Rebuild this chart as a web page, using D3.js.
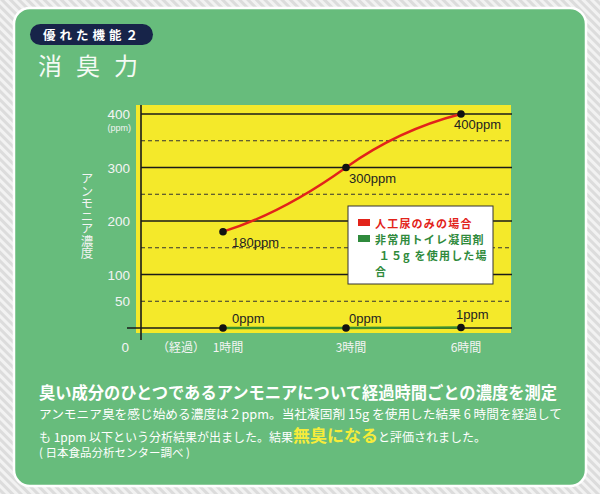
<!DOCTYPE html>
<html>
<head>
<meta charset="utf-8">
<script src="https://cdn.jsdelivr.net/npm/d3@7"></script>
<style>
  body { margin: 0; padding: 0; background: #fff; }
  svg { display: block; font-family: "Noto Sans CJK JP", "Noto Sans", sans-serif; }
</style>
</head>
<body>
<div id="chart"></div>
<script>
// chart data
var hours = [1, 3, 6];
var hourLabels = ["1時間", "3時間", "6時間"];
var urineOnly = [180, 300, 400];
var withAgent = [0, 0, 1];
var urineLabels = ["180ppm", "300ppm", "400ppm"];
var agentLabels = ["0ppm", "0ppm", "1ppm"];
var solidTicks = [0, 100, 200, 300, 400];
var dashedTicks = [50, 150, 250, 350];
var tickLabels = [400, 300, 200, 100, 50];
var legendLines = [
    { text: "人工尿のみの場合", color: "#e2231a" },
    { text: "非常用トイレ凝固剤", color: "#2f8a3c" },
    { text: " １５g を使用した場", color: "#2f8a3c" },
    { text: "合", color: "#2f8a3c" }
];

var W = 600, H = 494;

var svg = d3.select("#chart").append("svg")
    .attr("width", W)
    .attr("height", H);

// striped background
var defs = svg.append("defs");
var pat = defs.append("pattern")
    .attr("id", "stripes")
    .attr("patternUnits", "userSpaceOnUse")
    .attr("width", 6).attr("height", 6)
    .attr("patternTransform", "rotate(-45)");
pat.append("rect").attr("width", 6).attr("height", 6).attr("fill", "#f2f2f2");
pat.append("rect").attr("width", 3).attr("height", 6).attr("fill", "#dcdcdc");

svg.append("rect").attr("width", W).attr("height", H).attr("fill", "url(#stripes)");

// green panel
svg.append("rect")
    .attr("x", 14).attr("y", 8)
    .attr("width", 572).attr("height", 478)
    .attr("rx", 16)
    .attr("fill", "#67bc7c")
    .attr("stroke", "#ffffff")
    .attr("stroke-width", 2.5);

// badge
svg.append("rect")
    .attr("x", 30).attr("y", 24)
    .attr("width", 123).attr("height", 21)
    .attr("rx", 10.5)
    .attr("fill", "#172449");
svg.append("text")
    .attr("x", 43).attr("y", 40)
    .attr("fill", "#fff")
    .style("font-size", "12.5px")
    .style("font-weight", "bold")
    .style("letter-spacing", "4px")
    .text("優れた機能２");

svg.append("text")
    .attr("x", 38).attr("y", 75)
    .attr("fill", "#f4faf4")
    .style("font-size", "24px")
    .style("letter-spacing", "14px")
    .text("消臭力");

// scales
var x = d3.scaleLinear().domain(hours).range([223, 346, 461]);
var y = d3.scaleLinear().domain([0, 400]).range([328, 114]);

// plot area
var plotLeft = 136, plotRight = 511, plotTop = 105, plotBottom = 333;
var axisX = 141;

svg.append("rect")
    .attr("x", plotLeft).attr("y", plotTop)
    .attr("width", plotRight - plotLeft).attr("height", plotBottom - plotTop)
    .attr("fill", "#f4e92a");

svg.selectAll(".grid-solid")
    .data(solidTicks)
    .enter().append("line")
    .attr("class", "grid-solid")
    .attr("x1", function (d) { return d === 0 ? 127 : axisX; })
    .attr("x2", plotRight + 1)
    .attr("y1", function (d) { return y(d); })
    .attr("y2", function (d) { return y(d); })
    .attr("stroke", "#1a1a1a")
    .attr("stroke-width", 1.6);

svg.selectAll(".grid-dash")
    .data(dashedTicks)
    .enter().append("line")
    .attr("class", "grid-dash")
    .attr("x1", axisX).attr("x2", plotRight + 1)
    .attr("y1", function (d) { return y(d); })
    .attr("y2", function (d) { return y(d); })
    .attr("stroke", "#333")
    .attr("stroke-width", 1.2)
    .attr("stroke-dasharray", "4,3");

svg.append("line")
    .attr("x1", axisX).attr("x2", axisX)
    .attr("y1", plotTop).attr("y2", 340)
    .attr("stroke", "#1a1a1a")
    .attr("stroke-width", 1.6);

// y tick labels
svg.selectAll(".ytick")
    .data(tickLabels)
    .enter().append("text")
    .attr("class", "ytick")
    .attr("x", 130)
    .attr("y", function (d) { return y(d) + 5; })
    .attr("text-anchor", "end")
    .attr("fill", "#f4f4f4")
    .style("font-size", "13.5px")
    .style("font-family", "'Liberation Sans', sans-serif")
    .text(function (d) { return d; });

svg.append("text")
    .attr("x", 131).attr("y", y(400) + 17)
    .attr("text-anchor", "end")
    .attr("fill", "#f4f4f4")
    .style("font-size", "9px")
    .style("font-family", "'Liberation Sans', sans-serif")
    .text("(ppm)");

svg.append("text")
    .attr("x", 129).attr("y", 352)
    .attr("text-anchor", "end")
    .attr("fill", "#f4f4f4")
    .style("font-size", "13.5px")
    .style("font-family", "'Liberation Sans', sans-serif")
    .text("0");

// y axis title, vertical
svg.append("text")
    .attr("x", 87).attr("y", 172)
    .attr("fill", "#f4f4f4")
    .style("font-size", "12.5px")
    .style("writing-mode", "vertical-rl")
    .style("text-orientation", "upright")
    .text("アンモニア濃度");

// x labels
svg.append("text")
    .attr("x", 181).attr("y", 352)
    .attr("text-anchor", "middle")
    .attr("fill", "#f4f4f4")
    .style("font-size", "12px")
    .text("（経過）");

svg.selectAll(".xlab")
    .data(hours)
    .enter().append("text")
    .attr("class", "xlab")
    .attr("x", function (d) { return x(d) + 5; })
    .attr("y", 352)
    .attr("text-anchor", "middle")
    .attr("fill", "#f4f4f4")
    .style("font-size", "12px")
    .text(function (d, i) { return hourLabels[i]; });

// smooth curve through the scaled points, flattened at both ends
function smoothPath(values) {
    var pts = values.map(function (d, i) { return [x(hours[i]), y(d)]; });
    var n = pts.length;
    var m = pts.map(function (p, i) {
        if (i === 0) return 0.6 * (pts[1][1] - p[1]) / (pts[1][0] - p[0]);
        if (i === n - 1) return 0.55 * (p[1] - pts[i - 1][1]) / (p[0] - pts[i - 1][0]);
        return 1.45 * (pts[i + 1][1] - pts[i - 1][1]) / (pts[i + 1][0] - pts[i - 1][0]);
    });
    var p = d3.path();
    p.moveTo(pts[0][0], pts[0][1]);
    for (var i = 0; i < n - 1; i++) {
        var h = (pts[i + 1][0] - pts[i][0]) / 3;
        p.bezierCurveTo(pts[i][0] + h, pts[i][1] + m[i] * h,
            pts[i + 1][0] - h, pts[i + 1][1] - m[i + 1] * h,
            pts[i + 1][0], pts[i + 1][1]);
    }
    return p.toString();
}

var lineGreen = d3.line()
    .x(function (d, i) { return x(hours[i]); })
    .y(function (d) { return y(d); })
    .curve(d3.curveMonotoneX);

svg.append("path")
    .attr("d", lineGreen(withAgent))
    .attr("fill", "none")
    .attr("stroke", "#3a8f2e")
    .attr("stroke-width", 2.4);

svg.append("path")
    .attr("d", smoothPath(urineOnly))
    .attr("fill", "none")
    .attr("stroke", "#e2231a")
    .attr("stroke-width", 2.4);

svg.selectAll(".dot-red")
    .data(urineOnly)
    .enter().append("circle")
    .attr("cx", function (d, i) { return x(hours[i]); })
    .attr("cy", function (d) { return y(d); })
    .attr("r", 3.8)
    .attr("fill", "#111");

svg.selectAll(".dot-green")
    .data(withAgent)
    .enter().append("circle")
    .attr("cx", function (d, i) { return x(hours[i]); })
    .attr("cy", function (d) { return y(d); })
    .attr("r", 3.8)
    .attr("fill", "#111");

var labelShift = [9, 3, -7];

svg.selectAll(".lab-red")
    .data(urineOnly)
    .enter().append("text")
    .attr("x", function (d, i) { return x(hours[i]) + labelShift[i]; })
    .attr("y", function (d) { return y(d) + 15; })
    .attr("fill", "#222")
    .style("font-size", "13px")
    .style("font-family", "'Liberation Sans', sans-serif")
    .text(function (d, i) { return urineLabels[i]; });

svg.selectAll(".lab-green")
    .data(withAgent)
    .enter().append("text")
    .attr("x", function (d, i) { return x(hours[i]) + labelShift[i] + (i === 2 ? 2 : 0); })
    .attr("y", function (d, i) { return y(d) - (i === 2 ? 8 : 5); })
    .attr("fill", "#222")
    .style("font-size", "13px")
    .style("font-family", "'Liberation Sans', sans-serif")
    .text(function (d, i) { return agentLabels[i]; });

// legend
var lg = svg.append("g");
lg.append("rect")
    .attr("x", 348).attr("y", 206)
    .attr("width", 145).attr("height", 78)
    .attr("fill", "#fff")
    .attr("stroke", "#333")
    .attr("stroke-width", 1);
lg.append("rect")
    .attr("x", 358).attr("y", 219)
    .attr("width", 12).attr("height", 7)
    .attr("fill", "#e2231a");
lg.append("rect")
    .attr("x", 358).attr("y", 235)
    .attr("width", 12).attr("height", 7)
    .attr("fill", "#2f8a3c");
lg.selectAll(".lgt")
    .data(legendLines)
    .enter().append("text")
    .attr("class", "lgt")
    .attr("x", 375)
    .attr("y", function (d, i) { return 228 + i * 16; })
    .attr("fill", function (d) { return d.color; })
    .style("font-size", "11px")
    .style("font-weight", "bold")
    .style("letter-spacing", "1.2px")
    .style("white-space", "pre")
    .text(function (d) { return d.text; });

// description
svg.append("text")
    .attr("x", 39).attr("y", 399)
    .attr("fill", "#fff")
    .attr("textLength", 518)
    .attr("lengthAdjust", "spacingAndGlyphs")
    .style("font-size", "16.5px")
    .style("font-weight", "bold")
    .text("臭い成分のひとつであるアンモニアについて経過時間ごとの濃度を測定");

svg.append("text")
    .attr("x", 39).attr("y", 419)
    .attr("fill", "#fff")
    .attr("textLength", 523)
    .attr("lengthAdjust", "spacingAndGlyphs")
    .style("font-size", "12.5px")
    .text("アンモニア臭を感じ始める濃度は２ppm。当社凝固剤 15g を使用した結果 6 時間を経過して");

var l3 = svg.append("text")
    .attr("x", 39).attr("y", 442)
    .attr("fill", "#fff")
    .style("font-size", "12px");
l3.append("tspan").text("も 1ppm 以下という分析結果が出ました。結果");
l3.append("tspan")
    .attr("fill", "#f6ec3a")
    .style("font-size", "17px")
    .style("font-weight", "bold")
    .text("無臭になる");
l3.append("tspan").text("と評価されました。");

svg.append("text")
    .attr("x", 39).attr("y", 457)
    .attr("fill", "#fff")
    .style("font-size", "11.5px")
    .text("( 日本食品分析センター調べ )");
</script>
</body>
</html>
